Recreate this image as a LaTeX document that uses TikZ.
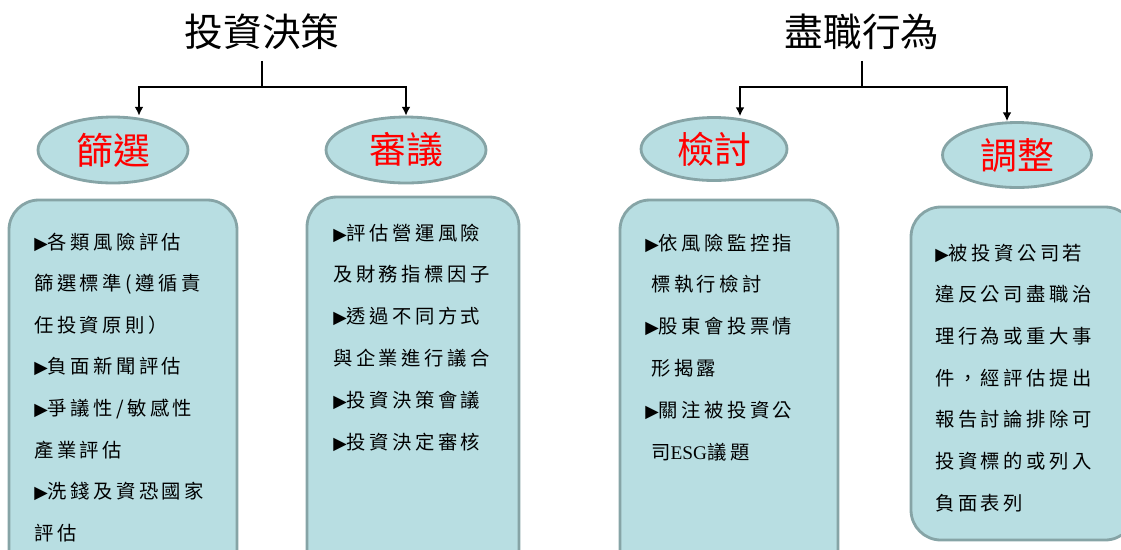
\documentclass[tikz,border=0pt]{standalone}
\usepackage{fontspec}
\setmainfont{Noto Sans CJK TC}
\newfontfamily\itemfont[LetterSpace=18]{Noto Sans CJK TC}
\newfontfamily\symfont{DejaVu Sans}
\newfontfamily\latinfont{Liberation Serif}
\newcommand{\tri}{{\symfont\fontsize{10}{10}\selectfont ▶}}
\newcommand{\esg}{{\latinfont ESG}}
\usetikzlibrary{shapes.geometric,arrows.meta}
\definecolor{boxfill}{RGB}{184,222,226}
\definecolor{boxline}{RGB}{134,164,166}
\tikzset{
	title/.style={font=\fontsize{22}{26}\selectfont,inner sep=6pt},
	cat/.style={ellipse,draw=boxline,fill=boxfill,line width=1.6pt,text=red,inner sep=0pt,font=\fontsize{21}{24}\selectfont},
	panel/.style={draw=boxline,fill=boxfill,line width=1.6pt,rounded corners=17pt},
	item/.style={anchor=base west,inner sep=0pt,font=\itemfont\fontsize{11}{12}\selectfont},
	link/.style={line width=0.8pt},
	arr/.style={line width=0.8pt,-{Latex[length=5pt,width=5pt]}}
}
\begin{document}
\begin{tikzpicture}[x=0.02cm,y=-0.02cm]
		\clip (0,0) rectangle (1121,549);
		
		\node[title] (inv) at (262,32) {投資決策};
		\node[title] (stw) at (862,32) {盡職行為};
		
		\node[cat,minimum width=3cm,minimum height=1.32cm] (sx) at (113,150) {篩選};
		\node[cat,minimum width=3.2cm,minimum height=1.32cm] (sy) at (406,150) {審議};
		\node[cat,minimum width=2.92cm,minimum height=1.26cm] (jt) at (714,149) {檢討};
		\node[cat,minimum width=2.98cm,minimum height=1.3cm] (tz) at (1017,155) {調整};
		
		\coordinate (invj) at (262,87);
		\coordinate (invl) at (139,87);
		\coordinate (invr) at (406,87);
		\coordinate (stwj) at (862,87);
		\coordinate (stwl) at (740,87);
		\coordinate (stwr) at (1007,87);
		
		\draw[link] (inv.south) -- (invj);
		\draw[arr] (invj) -- (invl) -- (invl |- sx.north);
		\draw[arr] (invj) -- (invr) -- (sy);
		\draw[link] (stw.south) -- (stwj);
		\draw[arr] (stwj) -- (stwl) -- (stwl |- jt.north);
		\draw[arr] (stwj) -- (stwr) -- (stwr |- tz.north);
		
		\draw[panel] (9,200) rectangle (237,580);
		\draw[panel] (307,197) rectangle (519,580);
		\draw[panel] (620,200) rectangle (838,580);
		\draw[panel] (911,207) rectangle (1135,540);
		
		\foreach \t[count=\i] in {{\tri 各類風險評估},篩選標準(遵循責,任投資原則）,{\tri 負面新聞評估},{\tri 爭議性/敏感性},產業評估,{\tri 洗錢及資恐國家},評估}{
			\node[item] (a\i) at (34,{249+41.6*(\i-1)}) {\t};
		}
		
		\foreach \t[count=\i] in {{\tri 評估營運風險},及財務指標因子,{\tri 透過不同方式},與企業進行議合,{\tri 投資決策會議},{\tri 投資決定審核}}{
			\node[item] (b\i) at (333,{240+41.8*(\i-1)}) {\t};
		}
		
		\foreach \t/\dx[count=\i] in {{\tri 依風險監控指}/0,標執行檢討/6,{\tri 股東會投票情}/0,形揭露/6,{\tri 關注被投資公}/0,司\esg 議題/6}{
			\node[item] (c\i) at ({645+\dx},{250+41.9*(\i-1)}) {\t};
		}
		
		\foreach \t[count=\i] in {{\tri 被投資公司若},違反公司盡職治,理行為或重大事,件，經評估提出,報告討論排除可,投資標的或列入,負面表列}{
			\node[item] (d\i) at (935,{260+41.7*(\i-1)}) {\t};
		}
\end{tikzpicture}
\end{document}
